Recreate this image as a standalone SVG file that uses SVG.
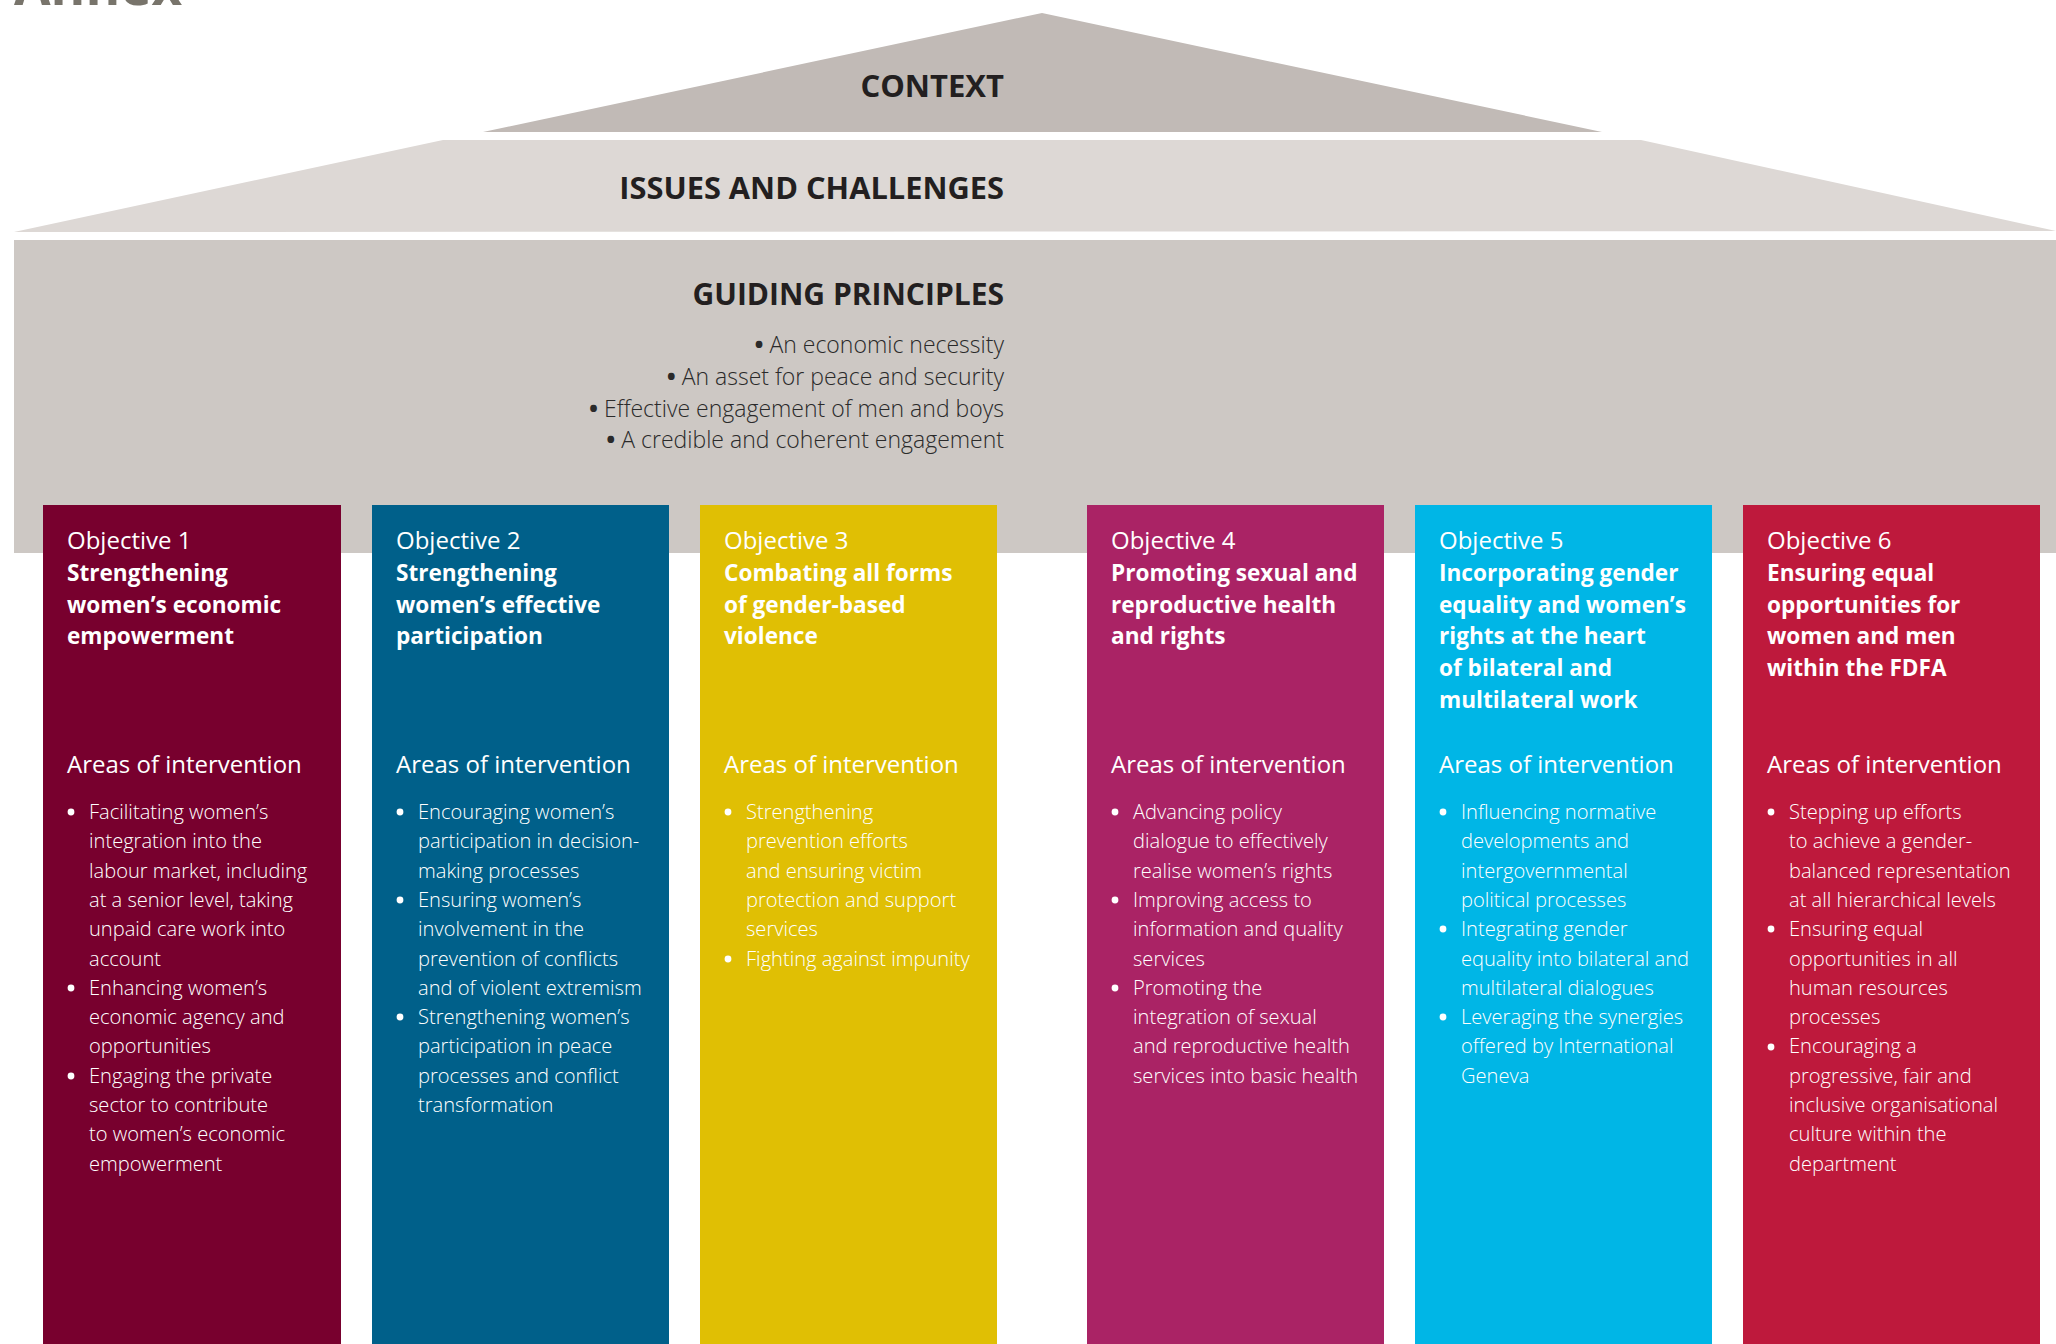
<svg xmlns="http://www.w3.org/2000/svg" width="2056" height="1344" viewBox="0 0 2056 1344">
<style>
  text { font-family: "Open Sans", "Noto Sans", "Liberation Sans", sans-serif; }
  .hd { font-size: 30px; font-weight: 700; fill: #231f20; text-anchor: end; }
  .gp { font-size: 23px; font-weight: 300; fill: #2a2a2a; text-anchor: end; }
  .gb { font-weight: 700; font-size: 24px; }
  .obj { font-size: 24px; font-weight: 400; fill: #ffffff; }
  .ttl { font-size: 22.6px; font-weight: 700; fill: #ffffff; }
  .aoi { font-size: 24px; font-weight: 400; fill: #ffffff; }
  .bl { font-size: 20.1px; font-weight: 300; fill: #ffffff; }
  .dot { fill: #ffffff; }
  .annex { font-size: 53px; font-weight: 700; fill: #78746b; }
</style>
<rect x="0" y="0" width="2056" height="1344" fill="#ffffff"/>
<text class="annex" x="14" y="5">Annex</text>

<g id="context">
  <polygon points="1042,13 1602,132 483,132" fill="#c1bab6"/>
  <text class="hd" x="1004" y="97" style="font-size:31px">CONTEXT</text>
</g>
<g id="issues">
  <polygon points="443,140 1641,140 2056,231 14,232" fill="#ddd8d5"/>
  <text class="hd" x="1004" y="199" style="font-size:30.8px">ISSUES AND CHALLENGES</text>
</g>
<g id="guiding">
  <rect x="14" y="240" width="2042" height="313" fill="#cdc8c4"/>
  <text class="hd" x="1004" y="305">GUIDING PRINCIPLES</text>
  <text class="gp" x="1004" y="353"><tspan class="gb">•</tspan> An economic necessity</text>
  <text class="gp" x="1004" y="385"><tspan class="gb">•</tspan> An asset for peace and security</text>
  <text class="gp" x="1004" y="417"><tspan class="gb">•</tspan> Effective engagement of men and boys</text>
  <text class="gp" x="1004" y="448"><tspan class="gb">•</tspan> A credible and coherent engagement</text>
</g>

<g id="objective1">
  <rect x="43" y="505" width="298" height="839" fill="#78002e"/>
  <text class="obj" x="67" y="549">Objective 1</text>
  <text class="ttl" x="67" y="581">Strengthening</text>
  <text class="ttl" x="67" y="613">women’s economic</text>
  <text class="ttl" x="67" y="644">empowerment</text>
  <text class="aoi" x="67" y="773">Areas of intervention</text>
  <circle class="dot" cx="71" cy="812" r="3.4"/>
  <circle class="dot" cx="71" cy="988" r="3.4"/>
  <circle class="dot" cx="71" cy="1076" r="3.4"/>
  <text class="bl" x="89" y="819">Facilitating women’s</text>
  <text class="bl" x="89" y="848.3">integration into the</text>
  <text class="bl" x="89" y="877.6">labour market, including</text>
  <text class="bl" x="89" y="906.9">at a senior level, taking</text>
  <text class="bl" x="89" y="936.2">unpaid care work into</text>
  <text class="bl" x="89" y="965.5">account</text>
  <text class="bl" x="89" y="994.8">Enhancing women’s</text>
  <text class="bl" x="89" y="1024.1">economic agency and</text>
  <text class="bl" x="89" y="1053.4">opportunities</text>
  <text class="bl" x="89" y="1082.7">Engaging the private</text>
  <text class="bl" x="89" y="1112">sector to contribute</text>
  <text class="bl" x="89" y="1141.3">to women’s economic</text>
  <text class="bl" x="89" y="1170.6">empowerment</text>
</g>

<g id="objective2">
  <rect x="372" y="505" width="297" height="839" fill="#00608a"/>
  <text class="obj" x="396" y="549">Objective 2</text>
  <text class="ttl" x="396" y="581">Strengthening</text>
  <text class="ttl" x="396" y="613">women’s effective</text>
  <text class="ttl" x="396" y="644">participation</text>
  <text class="aoi" x="396" y="773">Areas of intervention</text>
  <circle class="dot" cx="400" cy="812" r="3.4"/>
  <circle class="dot" cx="400" cy="900" r="3.4"/>
  <circle class="dot" cx="400" cy="1017" r="3.4"/>
  <text class="bl" x="418" y="819">Encouraging women’s</text>
  <text class="bl" x="418" y="848.3">participation in decision-</text>
  <text class="bl" x="418" y="877.6">making processes</text>
  <text class="bl" x="418" y="906.9">Ensuring women’s</text>
  <text class="bl" x="418" y="936.2">involvement in the</text>
  <text class="bl" x="418" y="965.5">prevention of conflicts</text>
  <text class="bl" x="418" y="994.8">and of violent extremism</text>
  <text class="bl" x="418" y="1024.1">Strengthening women’s</text>
  <text class="bl" x="418" y="1053.4">participation in peace</text>
  <text class="bl" x="418" y="1082.7">processes and conflict</text>
  <text class="bl" x="418" y="1112">transformation</text>
</g>

<g id="objective3">
  <rect x="700" y="505" width="297" height="839" fill="#e0bf04"/>
  <text class="obj" x="724" y="549">Objective 3</text>
  <text class="ttl" x="724" y="581">Combating all forms</text>
  <text class="ttl" x="724" y="613">of gender-based</text>
  <text class="ttl" x="724" y="644">violence</text>
  <text class="aoi" x="724" y="773">Areas of intervention</text>
  <circle class="dot" cx="728" cy="812" r="3.4"/>
  <circle class="dot" cx="728" cy="959" r="3.4"/>
  <text class="bl" x="746" y="819">Strengthening</text>
  <text class="bl" x="746" y="848.3">prevention efforts</text>
  <text class="bl" x="746" y="877.6">and ensuring victim</text>
  <text class="bl" x="746" y="906.9">protection and support</text>
  <text class="bl" x="746" y="936.2">services</text>
  <text class="bl" x="746" y="965.5">Fighting against impunity</text>
</g>

<g id="objective4">
  <rect x="1087" y="505" width="297" height="839" fill="#aa2365"/>
  <text class="obj" x="1111" y="549">Objective 4</text>
  <text class="ttl" x="1111" y="581">Promoting sexual and</text>
  <text class="ttl" x="1111" y="613">reproductive health</text>
  <text class="ttl" x="1111" y="644">and rights</text>
  <text class="aoi" x="1111" y="773">Areas of intervention</text>
  <circle class="dot" cx="1115" cy="812" r="3.4"/>
  <circle class="dot" cx="1115" cy="900" r="3.4"/>
  <circle class="dot" cx="1115" cy="988" r="3.4"/>
  <text class="bl" x="1133" y="819">Advancing policy</text>
  <text class="bl" x="1133" y="848.3">dialogue to effectively</text>
  <text class="bl" x="1133" y="877.6">realise women’s rights</text>
  <text class="bl" x="1133" y="906.9">Improving access to</text>
  <text class="bl" x="1133" y="936.2">information and quality</text>
  <text class="bl" x="1133" y="965.5">services</text>
  <text class="bl" x="1133" y="994.8">Promoting the</text>
  <text class="bl" x="1133" y="1024.1">integration of sexual</text>
  <text class="bl" x="1133" y="1053.4">and reproductive health</text>
  <text class="bl" x="1133" y="1082.7">services into basic health</text>
</g>

<g id="objective5">
  <rect x="1415" y="505" width="297" height="839" fill="#00b6e6"/>
  <text class="obj" x="1439" y="549">Objective 5</text>
  <text class="ttl" x="1439" y="581">Incorporating gender</text>
  <text class="ttl" x="1439" y="613">equality and women’s</text>
  <text class="ttl" x="1439" y="644">rights at the heart</text>
  <text class="ttl" x="1439" y="676">of bilateral and</text>
  <text class="ttl" x="1439" y="708">multilateral work</text>
  <text class="aoi" x="1439" y="773">Areas of intervention</text>
  <circle class="dot" cx="1443" cy="812" r="3.4"/>
  <circle class="dot" cx="1443" cy="929" r="3.4"/>
  <circle class="dot" cx="1443" cy="1017" r="3.4"/>
  <text class="bl" x="1461" y="819">Influencing normative</text>
  <text class="bl" x="1461" y="848.3">developments and</text>
  <text class="bl" x="1461" y="877.6">intergovernmental</text>
  <text class="bl" x="1461" y="906.9">political processes</text>
  <text class="bl" x="1461" y="936.2">Integrating gender</text>
  <text class="bl" x="1461" y="965.5">equality into bilateral and</text>
  <text class="bl" x="1461" y="994.8">multilateral dialogues</text>
  <text class="bl" x="1461" y="1024.1">Leveraging the synergies</text>
  <text class="bl" x="1461" y="1053.4">offered by International</text>
  <text class="bl" x="1461" y="1082.7">Geneva</text>
</g>

<g id="objective6">
  <rect x="1743" y="505" width="297" height="839" fill="#be193c"/>
  <text class="obj" x="1767" y="549">Objective 6</text>
  <text class="ttl" x="1767" y="581">Ensuring equal</text>
  <text class="ttl" x="1767" y="613">opportunities for</text>
  <text class="ttl" x="1767" y="644">women and men</text>
  <text class="ttl" x="1767" y="676">within the FDFA</text>
  <text class="aoi" x="1767" y="773">Areas of intervention</text>
  <circle class="dot" cx="1771" cy="812" r="3.4"/>
  <circle class="dot" cx="1771" cy="929" r="3.4"/>
  <circle class="dot" cx="1771" cy="1047" r="3.4"/>
  <text class="bl" x="1789" y="819">Stepping up efforts</text>
  <text class="bl" x="1789" y="848.3">to achieve a gender-</text>
  <text class="bl" x="1789" y="877.6">balanced representation</text>
  <text class="bl" x="1789" y="906.9">at all hierarchical levels</text>
  <text class="bl" x="1789" y="936.2">Ensuring equal</text>
  <text class="bl" x="1789" y="965.5">opportunities in all</text>
  <text class="bl" x="1789" y="994.8">human resources</text>
  <text class="bl" x="1789" y="1024.1">processes</text>
  <text class="bl" x="1789" y="1053.4">Encouraging a</text>
  <text class="bl" x="1789" y="1082.7">progressive, fair and</text>
  <text class="bl" x="1789" y="1112">inclusive organisational</text>
  <text class="bl" x="1789" y="1141.3">culture within the</text>
  <text class="bl" x="1789" y="1170.6">department</text>
</g>

<g id="connectors"></g>
</svg>
